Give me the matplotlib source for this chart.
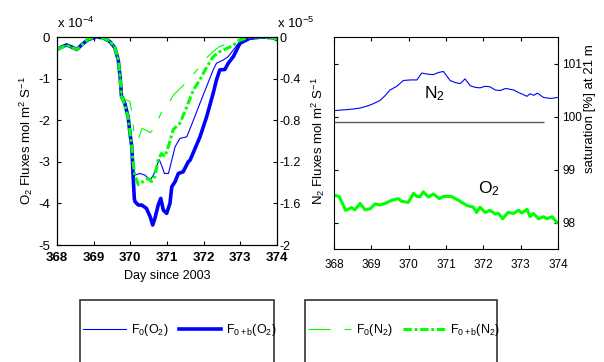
import matplotlib
matplotlib.use('Agg')
import matplotlib.pyplot as plt
from matplotlib.patches import Rectangle

plt.rcParams['font.family'] = ['Liberation Sans', 'DejaVu Sans']
plt.rcParams['mathtext.fontset'] = 'custom'
plt.rcParams['mathtext.rm'] = 'Liberation Sans'
plt.rcParams['mathtext.it'] = 'Liberation Sans:italic'
plt.rcParams['mathtext.bf'] = 'Liberation Sans:bold'
plt.rcParams['mathtext.default'] = 'regular'
plt.rcParams['axes.unicode_minus'] = False
plt.rcParams['lines.scale_dashes'] = False

# ---- left panel: O2 fluxes (x 1e-4) ----
o2_f0_day = [368.0, 368.13, 368.26, 368.4, 368.54, 368.67, 368.85, 369.08, 369.26, 369.44,
             369.58, 369.63, 369.67, 369.72, 369.76, 369.82, 369.87, 369.94, 369.99, 370.04,
             370.08, 370.13, 370.26, 370.40, 370.54, 370.63, 370.72, 370.79, 370.86, 370.93,
             371.04, 371.13, 371.22, 371.35, 371.54, 371.72, 371.90, 372.08, 372.26, 372.35,
             372.54, 372.67, 372.81, 372.99, 373.26, 373.6, 373.9, 374.0]
o2_f0 = [-0.30, -0.24, -0.19, -0.24, -0.30, -0.19, -0.06, 0.0, -0.02, -0.11,
         -0.26, -0.43, -0.55, -0.95, -1.40, -1.45, -1.70, -1.92, -2.31, -2.80,
         -3.28, -3.32, -3.28, -3.32, -3.44, -3.32, -3.10, -2.95, -3.10, -3.28,
         -3.28, -2.96, -2.64, -2.44, -2.40, -2.00, -1.59, -1.19, -0.79, -0.63,
         -0.55, -0.47, -0.31, -0.11, -0.03, 0.0, -0.02, -0.06]

o2_f0b_day = [368.0, 368.13, 368.26, 368.4, 368.54, 368.67, 368.85, 369.08, 369.26, 369.44,
              369.58, 369.63, 369.67, 369.72, 369.76, 369.85, 369.94, 369.99, 370.04, 370.08,
              370.11, 370.13, 370.22, 370.31, 370.44, 370.54, 370.61, 370.67, 370.76, 370.83,
              370.90, 370.99, 371.08, 371.13, 371.22, 371.31, 371.44, 371.58, 371.63, 371.90,
              372.08, 372.26, 372.35, 372.44, 372.58, 372.67, 372.81, 372.99, 373.26, 373.6,
              373.9, 374.0]
o2_f0b = [-0.30, -0.24, -0.19, -0.24, -0.30, -0.19, -0.06, 0.0, -0.02, -0.11,
          -0.26, -0.43, -0.55, -0.95, -1.43, -1.60, -1.92, -2.31, -2.64, -3.40,
          -3.90, -3.96, -4.04, -4.04, -4.12, -4.32, -4.52, -4.36, -4.04, -3.88,
          -4.16, -4.24, -4.00, -3.60, -3.48, -3.28, -3.24, -3.00, -2.96, -2.40,
          -1.92, -1.35, -1.03, -0.79, -0.78, -0.63, -0.47, -0.15, -0.03, 0.0,
          -0.02, -0.06]

# ---- N2 fluxes (x 1e-5, right axis of left panel) ----
n2_f0_day = [368.0, 368.13, 368.26, 368.4, 368.54, 368.67, 368.85, 369.08, 369.26, 369.44,
             369.58, 369.63, 369.67, 369.72, 369.76, 369.85, 369.99, 370.04, 370.10, 370.17,
             370.24, 370.32, 370.45, 370.55, 370.65, 370.72, 370.85, 370.99, 371.17, 371.40,
             371.63, 371.90, 372.08, 372.26, 372.44, 372.72, 372.90, 373.17, 373.6, 374.0]
n2_f0 = [-0.12, -0.10, -0.08, -0.10, -0.12, -0.08, -0.02, 0.0, -0.01, -0.04,
         -0.10, -0.17, -0.22, -0.38, -0.56, -0.60, -0.62, -0.72, -0.92, -1.00,
         -0.96, -0.88, -0.90, -0.92, -0.88, -0.83, -0.72, -0.67, -0.56, -0.48,
         -0.40, -0.28, -0.20, -0.14, -0.09, -0.06, -0.03, 0.0, 0.0, -0.02]

n2_f0b_day = [368.0, 368.13, 368.26, 368.4, 368.54, 368.67, 368.85, 369.08, 369.26, 369.44,
              369.58, 369.63, 369.67, 369.72, 369.76, 369.85, 369.94, 369.99, 370.04, 370.08,
              370.13, 370.22, 370.35, 370.49, 370.58, 370.67, 370.76, 370.85, 370.94, 371.04,
              371.17, 371.35, 371.54, 371.72, 371.90, 372.08, 372.26, 372.44, 372.63, 372.81,
              372.99, 373.26, 373.6, 373.9, 374.0]
n2_f0b = [-0.12, -0.10, -0.08, -0.10, -0.12, -0.08, -0.02, 0.0, -0.01, -0.04,
          -0.10, -0.17, -0.22, -0.38, -0.57, -0.66, -0.77, -0.92, -1.06, -1.22,
          -1.34, -1.42, -1.39, -1.36, -1.39, -1.34, -1.18, -1.12, -1.15, -1.05,
          -0.89, -0.83, -0.67, -0.51, -0.41, -0.29, -0.19, -0.14, -0.11, -0.08,
          -0.03, 0.0, 0.0, -0.01, -0.02]

# ---- right panel: saturation at 21 m ----
sat_n2_day = [368.0, 368.15, 368.35, 368.5, 368.7, 368.9, 369.05, 369.23, 369.35, 369.5,
              369.68, 369.86, 370.05, 370.22, 370.35, 370.5, 370.66, 370.8, 370.93, 371.11,
              371.25, 371.38, 371.51, 371.65, 371.78, 371.91, 372.05, 372.18, 372.32, 372.45,
              372.6, 372.81, 372.95, 373.05, 373.17, 373.25, 373.35, 373.45, 373.61, 373.8,
              374.0]
sat_n2 = [100.11, 100.12, 100.13, 100.14, 100.16, 100.20, 100.24, 100.30, 100.38, 100.50,
          100.57, 100.68, 100.69, 100.69, 100.82, 100.80, 100.79, 100.83, 100.85, 100.68,
          100.64, 100.62, 100.71, 100.58, 100.55, 100.54, 100.57, 100.56, 100.50, 100.49,
          100.53, 100.50, 100.45, 100.42, 100.38, 100.43, 100.40, 100.44, 100.36, 100.34,
          100.36]

sat_o2_day = [368.03, 368.14, 368.31, 368.47, 368.56, 368.70, 368.83, 368.97, 369.10, 369.23,
              369.37, 369.55, 369.72, 369.81, 369.99, 370.13, 370.22, 370.31, 370.39, 370.53,
              370.66, 370.82, 370.93, 371.15, 371.33, 371.56, 371.73, 371.82, 371.91, 372.05,
              372.18, 372.32, 372.41, 372.52, 372.66, 372.81, 372.94, 373.03, 373.17, 373.25,
              373.34, 373.48, 373.61, 373.70, 373.84, 373.97]
sat_o2 = [98.51, 98.49, 98.23, 98.28, 98.24, 98.36, 98.24, 98.26, 98.35, 98.33,
          98.36, 98.42, 98.45, 98.40, 98.38, 98.55, 98.49, 98.49, 98.58, 98.48,
          98.54, 98.45, 98.49, 98.49, 98.42, 98.32, 98.29, 98.19, 98.29, 98.19,
          98.23, 98.16, 98.17, 98.07, 98.19, 98.17, 98.23, 98.18, 98.25, 98.11,
          98.17, 98.07, 98.11, 98.07, 98.11, 98.00]

ref_level = 99.89
ref_start, ref_end = 368.0, 373.63

blue = '#0000ff'
green = '#00ff00'
fs = 9.5

fig = plt.figure(figsize=(6.04, 3.62), dpi=100)

# left panel
ax1 = fig.add_axes([57/604, 1-245/362, 220/604, 208/362])
l_o2_f0, = ax1.plot(o2_f0_day, o2_f0, color=blue, lw=0.8, label=r'F$_0$(O$_2$)')
l_o2_f0b, = ax1.plot(o2_f0b_day, o2_f0b, color=blue, lw=2.6, label=r'F$_{0+b}$(O$_2$)')
ax1.set_xlim(368, 374)
ax1.set_ylim(-5, 0)
ax1.set_xticks(range(368, 375))
ax1.set_yticks([-5, -4, -3, -2, -1, 0])
ax1.set_yticklabels(['-5', '-4', '-3', '-2', '-1', '0'])
ax1.tick_params(direction='in', length=3, top=True, labelsize=fs, pad=5)
ax1.tick_params(axis='x', pad=5)
for t in ax1.get_xticklabels():
    t.set_fontweight('bold')
ax1.set_xlabel('Day since 2003', fontsize=9, labelpad=4)
ax1.set_ylabel(r'O$_2$ Fluxes mol m$^2$ S$^{-1}$', fontsize=fs, labelpad=2)

ax1t = ax1.twinx()
l_n2_f0, = ax1t.plot(n2_f0_day, n2_f0, color=green, lw=0.8, dashes=(16, 10, 5, 10),
                     label=r'F$_0$(N$_2$)')
l_n2_f0b, = ax1t.plot(n2_f0b_day, n2_f0b, color=green, lw=2.2, dashes=(6, 2, 2, 2),
                      label=r'F$_{0+b}$(N$_2$)')
ax1t.set_ylim(-2, 0)
ax1t.set_yticks([-2, -1.6, -1.2, -0.8, -0.4, 0])
ax1t.set_yticklabels(['-2', '-1.6', '-1.2', '-0.8', '-0.4', '0'])
ax1t.tick_params(direction='in', length=3, labelsize=9, pad=1.5)
ax1t.set_ylabel(r'N$_2$ Fluxes mol m$^2$ S$^{-1}$', fontsize=fs, labelpad=7)

fig.text(57/604, 1-28/362, r'x 10$^{-4}$', fontsize=fs)
fig.text(277/604, 1-28/362, r'x 10$^{-5}$', fontsize=fs)

# right panel
ax2 = fig.add_axes([334/604, 1-249/362, 224/604, 212/362])
ax2.plot(sat_n2_day, sat_n2, color=blue, lw=0.8)
ax2.plot(sat_o2_day, sat_o2, color=green, lw=2.2)
ax2.hlines(ref_level, ref_start, ref_end, color='0.35', lw=1.0)
ax2.set_xlim(368, 374)
ax2.set_ylim(97.5, 101.5)
ax2.set_xticks(range(368, 375))
ax2.set_yticks([98, 99, 100, 101])
ax2.yaxis.tick_right()
ax2.tick_params(direction='in', length=3, top=True, left=True, right=True,
                labelleft=False, labelright=True, labelsize=8.5, pad=3)
ax2.tick_params(axis='x', pad=7)
ax2.text(370.68, 100.43, r'N$_2$', fontsize=12.5, ha='center', va='center')
ax2.text(372.15, 98.64, r'O$_2$', fontsize=12.5, ha='center', va='center')
fig.text(590/604, 1-109/362, 'saturation [%] at 21 m', rotation=90, fontsize=fs,
         ha='center', va='center')

# legends with boxes running off the bottom of the figure
leg_kw = dict(loc='center', ncol=2, frameon=False, fontsize=9, handlelength=3.4,
              handletextpad=0.4, columnspacing=0.8)
fig.legend(handles=[l_o2_f0, l_o2_f0b], bbox_to_anchor=(180/604, 1-330/362), **leg_kw)
fig.legend(handles=[l_n2_f0, l_n2_f0b], bbox_to_anchor=(404/604, 1-330/362), **leg_kw)
fig.add_artist(Rectangle((80/604, -0.1), 194/604, 0.1 + 1 - 300/362,
                         transform=fig.transFigure, fill=False, lw=1.2, ec='0.2'))
fig.add_artist(Rectangle((305/604, -0.1), 192/604, 0.1 + 1 - 300/362,
                         transform=fig.transFigure, fill=False, lw=1.2, ec='0.2'))

fig.savefig('out.png', dpi=100)
